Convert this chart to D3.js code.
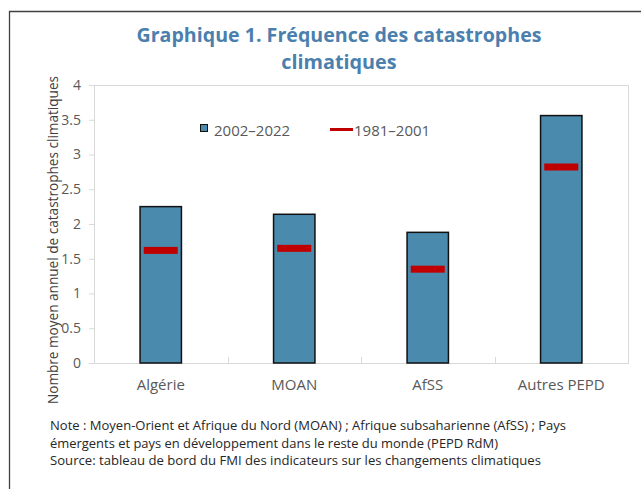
<!DOCTYPE html>
<html>
<head>
<meta charset="utf-8">
<script src="https://cdn.jsdelivr.net/npm/d3@7"></script>
<style>
  body { margin: 0; background: #fff; }
  text { font-family: "Open Sans", "Noto Sans", sans-serif; }
</style>
</head>
<body>
<div class="chart"></div>
<script>
var categories = ["Algérie", "MOAN", "AfSS", "Autres PEPD"];
var recent = [2.25, 2.14, 1.88, 3.56];     // 2002–2022
var older = [1.62, 1.65, 1.35, 2.82];      // 1981–2001
var yTicks = [0, 0.5, 1, 1.5, 2, 2.5, 3, 3.5, 4];
var seriesNames = ["2002–2022", "1981–2001"];
var noteLines = [
    "Note : Moyen-Orient et Afrique du Nord (MOAN) ; Afrique subsaharienne (AfSS) ; Pays",
    "émergents et pays en développement dans le reste du monde (PEPD RdM)",
    "Source: tableau de bord du FMI des indicateurs sur les changements climatiques"
];

var svgWidth = 641, svgHeight = 489;
var margin = { top: 85, right: 13, bottom: 126, left: 94 };
var width = svgWidth - margin.left - margin.right;
var height = svgHeight - margin.top - margin.bottom;

var blue = "#4a8aad", red = "#c00000", gray = "#595959", light = "#d9d9d9";

var svg = d3.select(".chart").append("svg")
    .attr("width", svgWidth).attr("height", svgHeight);

// outer frame
svg.append("path")
    .attr("d", "M9.5," + svgHeight + "V11.5H" + svgWidth)
    .attr("fill", "none").attr("stroke", "#404040").attr("stroke-width", 1.3);

// title
svg.append("text")
    .attr("x", 339).attr("y", 42)
    .attr("text-anchor", "middle")
    .attr("font-size", 19.8).attr("font-weight", "bold").attr("fill", "#4b7fae")
    .attr("textLength", 405).attr("lengthAdjust", "spacingAndGlyphs")
    .text("Graphique 1. Fréquence des catastrophes");
svg.append("text")
    .attr("x", 339).attr("y", 69)
    .attr("text-anchor", "middle")
    .attr("font-size", 19.8).attr("font-weight", "bold").attr("fill", "#4b7fae")
    .text("climatiques");

var chartGroup = svg.append("g")
    .attr("transform", `translate(${margin.left}, ${margin.top})`);

var x = d3.scaleBand().domain(categories).range([0, width]).padding(0);
var y = d3.scaleLinear().domain([0, 4]).range([height, 0]);

// plot border
chartGroup.append("rect")
    .attr("x", 0.5).attr("y", 0.5)
    .attr("width", width).attr("height", height)
    .attr("fill", "none").attr("stroke", light);

// y axis
var leftAxis = d3.axisLeft(y).tickValues(yTicks).tickSize(5).tickPadding(8)
    .tickFormat(d => String(d));
var yAxis = chartGroup.append("g").call(leftAxis);
yAxis.select(".domain").attr("stroke", light);
yAxis.selectAll(".tick line").attr("stroke", light);
yAxis.selectAll(".tick text")
    .attr("font-size", 14).attr("fill", gray)
    .attr("font-family", "Open Sans, sans-serif");

// x axis
var bottomAxis = d3.axisBottom(x).tickSize(0).tickPadding(16);
var xAxis = chartGroup.append("g")
    .attr("transform", `translate(0, ${height})`)
    .call(bottomAxis);
xAxis.select(".domain").attr("stroke", light);
xAxis.selectAll(".tick text")
    .attr("font-size", 15).attr("fill", gray)
    .attr("font-family", "Open Sans, sans-serif");

// category separators
chartGroup.selectAll(".sep")
    .data(categories.slice(1))
    .enter().append("line")
    .attr("class", "sep")
    .attr("x1", d => Math.round(x(d)) + 0.5).attr("x2", d => Math.round(x(d)) + 0.5)
    .attr("y1", height - 6).attr("y2", height)
    .attr("stroke", light);

// bars
var barW = x.bandwidth() * 0.31;
chartGroup.selectAll(".bar")
    .data(recent)
    .enter().append("rect")
    .attr("class", "bar")
    .attr("x", (d, i) => x(categories[i]) + x.bandwidth() / 2 - barW / 2)
    .attr("y", d => y(d))
    .attr("width", barW)
    .attr("height", d => height - y(d))
    .attr("fill", blue).attr("stroke", "#111").attr("stroke-width", 1.5);

// markers
var markW = x.bandwidth() * 0.255;
chartGroup.selectAll(".mark")
    .data(older)
    .enter().append("rect")
    .attr("class", "mark")
    .attr("x", (d, i) => x(categories[i]) + x.bandwidth() / 2 - markW / 2)
    .attr("y", d => y(d) - 3.5)
    .attr("width", markW)
    .attr("height", 7)
    .attr("fill", red);

// legend
svg.append("rect")
    .attr("x", 200.5).attr("y", 124.5).attr("width", 7).attr("height", 7)
    .attr("fill", blue).attr("stroke", "#111");
svg.append("text")
    .attr("x", 214).attr("y", 135.5)
    .attr("font-size", 15).attr("fill", gray)
    .text(seriesNames[0]);
svg.append("line")
    .attr("x1", 330).attr("x2", 353).attr("y1", 129.5).attr("y2", 129.5)
    .attr("stroke", red).attr("stroke-width", 3);
svg.append("text")
    .attr("x", 354).attr("y", 135.5)
    .attr("font-size", 15).attr("fill", gray)
    .text(seriesNames[1]);

// y axis title
svg.append("text")
    .attr("transform", "translate(58, 240) rotate(-90)")
    .attr("text-anchor", "middle")
    .attr("font-size", 14.5).attr("fill", "#404040")
    .attr("textLength", 328).attr("lengthAdjust", "spacingAndGlyphs")
    .text("Nombre moyen annuel de catastrophes climatiques");

// notes
var noteEnds = [566, 498, 541];
svg.selectAll(".note")
    .data(noteLines)
    .enter().append("text")
    .attr("class", "note")
    .attr("x", 50)
    .attr("y", (d, i) => 430 + i * 17.5)
    .attr("font-size", 13).attr("fill", "#262626")
    .attr("textLength", (d, i) => noteEnds[i] - 50)
    .attr("lengthAdjust", "spacingAndGlyphs")
    .text(d => d);
</script>
</body>
</html>
